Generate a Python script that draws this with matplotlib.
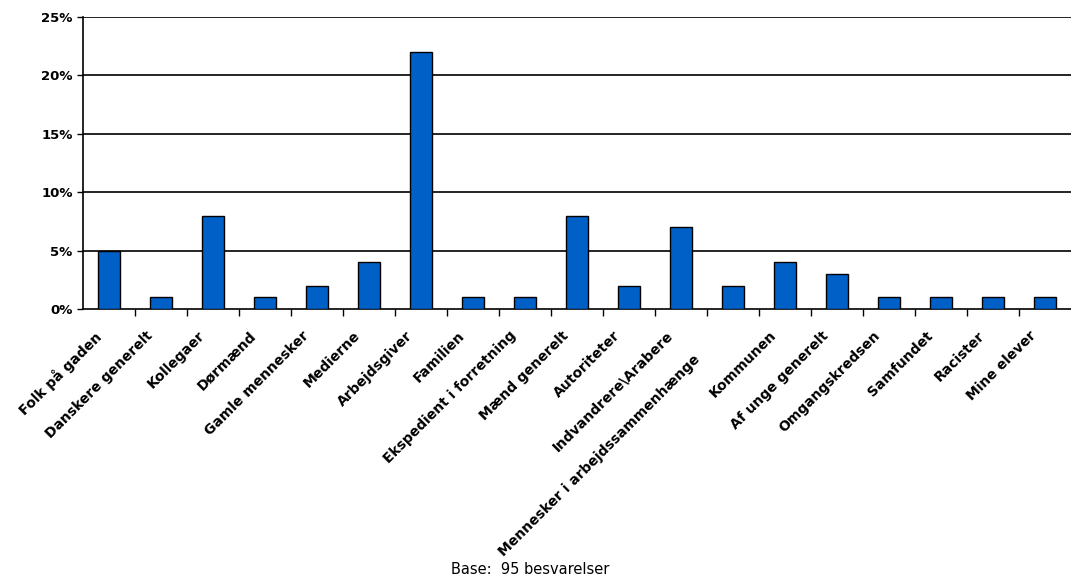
import numpy as np
from matplotlib import pyplot as plt
from matplotlib.ticker import FuncFormatter, FixedLocator
from matplotlib.transforms import ScaledTranslation

# Data
categories = ["Folk på gaden", "Danskere generelt", "Kollegaer", "Dørmænd",
              "Gamle mennesker", "Medierne", "Arbejdsgiver", "Familien",
              "Ekspedient i forretning", "Mænd generelt", "Autoriteter",
              "Indvandrere\\Arabere", "Mennesker i arbejdssammenhænge",
              "Kommunen", "Af unge generelt", "Omgangskredsen", "Samfundet",
              "Racister", "Mine elever"]
values = [5, 1, 8, 1, 2, 4, 22, 1, 1, 8, 2, 7, 2, 4, 3, 1, 1, 1, 1]
yticks = [0, 5, 10, 15, 20, 25]

fig = plt.figure(figsize=(10.71, 5.81), dpi=100)
ax = fig.add_axes([83/1071, 1 - 309/581, 1 - 83/1071, (309 - 17)/581])

x = np.arange(len(categories))
ax.bar(x, values, width=0.44, color='#0060c8', edgecolor='black', linewidth=1, zorder=3)

ax.set_xlim(-0.5, len(categories) - 0.5)
ax.set_ylim(0, 25)
ax.set_yticks(yticks)
ax.yaxis.set_major_formatter(FuncFormatter(lambda v, p: f"{v:.0f}%"))
for t in yticks[1:]:
    ax.axhline(t, color='black', linewidth=1.2, zorder=1)

# ticks between categories, labels placed under the bars
ax.xaxis.set_major_locator(FixedLocator(x[:-1] + 0.5))
ax.xaxis.set_major_formatter(FuncFormatter(lambda v, p: ""))
ax.xaxis.set_minor_locator(FixedLocator(x - 0.3))
ax.set_xticklabels(categories, minor=True, rotation=45, ha='right',
                   rotation_mode='anchor', fontsize=10, fontweight='bold')
ax.tick_params(axis='x', which='minor', length=0, pad=14)
ax.tick_params(axis='x', which='major', length=5, width=1, direction='out')
ax.tick_params(axis='y', length=4, width=1, labelsize=9.5)
for lab in ax.get_yticklabels():
    lab.set_fontweight('bold')

# the longest label sits a bit lower in the original
longest = ax.get_xticklabels(minor=True)[12]
longest.set_transform(longest.get_transform() + ScaledTranslation(-0.24, -0.24, fig.dpi_scale_trans))

for s in ['top', 'right']:
    ax.spines[s].set_visible(False)
ax.spines['left'].set_linewidth(1.2)
ax.spines['bottom'].set_linewidth(1.2)

fig.text(530/1071, 1 - 570/581, "Base:  95 besvarelser", ha='center', va='center', fontsize=10.5)

plt.savefig('out.png', dpi=100)
